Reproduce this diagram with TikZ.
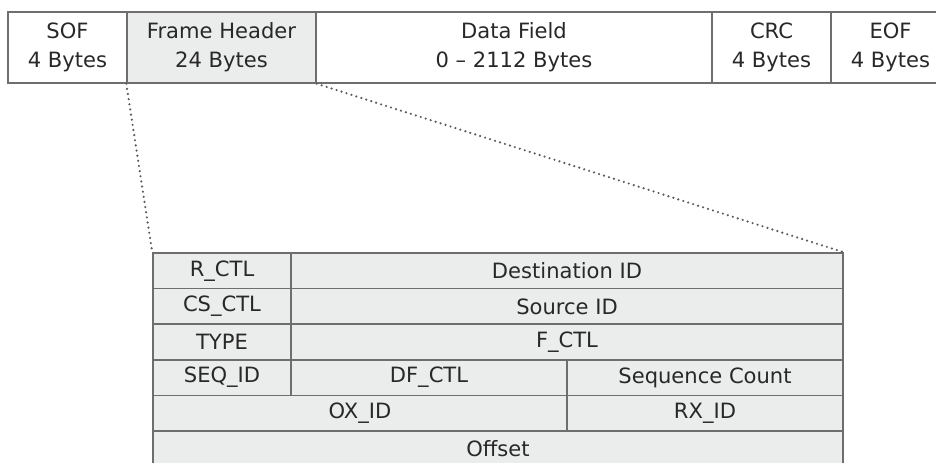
\documentclass[tikz,border=0pt]{standalone}
\usepackage{fontspec}
\setmainfont{DejaVu Sans}
\definecolor{linegray}{RGB}{110,110,110}
\definecolor{txtgray}{RGB}{40,40,40}
\definecolor{cellfill}{RGB}{235,236,236}
\definecolor{dotgray}{RGB}{90,90,90}
\begin{document}
\begin{tikzpicture}[x=0.75pt,y=-0.75pt,
  cell/.style={draw=linegray, line width=1.1pt, inner sep=0pt, text=txtgray,
    align=center, font=\fontsize{15.8}{21.8}\selectfont},
  topcell/.style={cell, minimum height=71*0.75pt},
  lowcell/.style={cell, fill=cellfill, minimum height=35.6*0.75pt},
  zoomline/.style={draw=dotgray, line width=1.8pt, line cap=round, dash pattern=on 0pt off 3.9pt}]
\useasboundingbox (0,0) rectangle (936,462);
\clip (0,0) rectangle (936,462);
% top row
\node[topcell, minimum width=119*0.75pt] (sof) at (67.5,47.5) {SOF\\4 Bytes};
\node[topcell, fill=cellfill, minimum width=189*0.75pt] (fh) at (221.5,47.5) {Frame Header\\24 Bytes};
\node[topcell, minimum width=396*0.75pt] (df) at (514,47.5) {Data Field\\0 – 2112 Bytes};
\node[topcell, minimum width=119*0.75pt] (crc) at (771.5,47.5) {CRC\\4 Bytes};
\node[topcell, minimum width=119*0.75pt] (eof) at (890.5,47.5) {EOF\\4 Bytes};
% header table
\node[lowcell, minimum width=138*0.75pt] (rctl) at (222,270.8) {R\_CTL};
\node[lowcell, minimum width=552*0.75pt] (did) at (567,270.8) {Destination ID};
\node[lowcell, minimum width=138*0.75pt] (csctl) at (222,306.4) {CS\_CTL};
\node[lowcell, minimum width=552*0.75pt] (sid) at (567,306.4) {Source ID};
\node[lowcell, minimum width=138*0.75pt] (type) at (222,342) {TYPE};
\node[lowcell, minimum width=552*0.75pt] (fctl) at (567,342) {F\_CTL};
\node[lowcell, minimum width=138*0.75pt] (seqid) at (222,377.6) {SEQ\_ID};
\node[lowcell, minimum width=276*0.75pt] (dfctl) at (429,377.6) {DF\_CTL};
\node[lowcell, minimum width=276*0.75pt] (seqcnt) at (705,377.6) {Sequence Count};
\node[lowcell, minimum width=414*0.75pt] (oxid) at (360,413.2) {OX\_ID};
\node[lowcell, minimum width=276*0.75pt] (rxid) at (705,413.2) {RX\_ID};
\node[lowcell, minimum width=690*0.75pt] (offset) at (498,448.8) {Offset};
% zoom lines
\draw[zoomline] (fh.south west) -- (rctl.north west);
\draw[zoomline] (fh.south east) -- (did.north east);
\end{tikzpicture}
\end{document}
